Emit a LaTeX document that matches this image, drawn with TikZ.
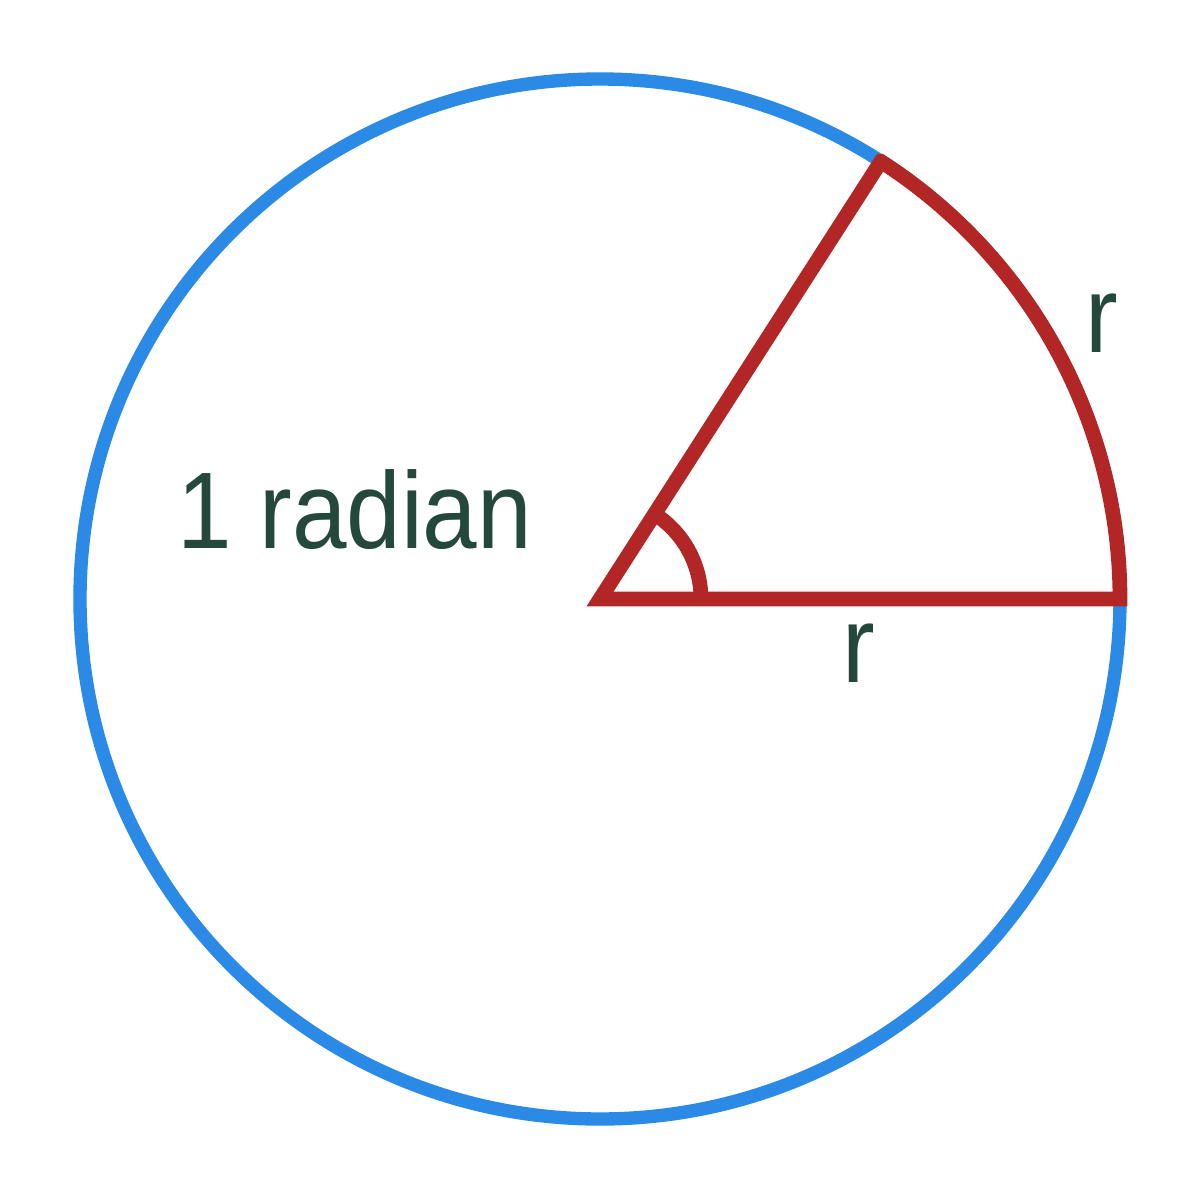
\documentclass[tikz,border=0pt]{standalone}
\usepackage{fontspec}
\setmainfont{Liberation Sans}
\definecolor{circleblue}{RGB}{42,138,230}
\definecolor{sectorred}{RGB}{178,38,38}
\definecolor{labelgreen}{RGB}{36,72,60}
\tikzset{
  rim/.style={draw=circleblue,line width=3.8pt},
  sector/.style={draw=sectorred,line width=4.2pt,line join=miter},
  lbl/.style={text=labelgreen,anchor=base,inner sep=0pt,xscale=0.9,font=\fontsize{31}{36}\selectfont}
}
\begin{document}
\begin{tikzpicture}
            \useasboundingbox[fill=white] (-6,-6.01) rectangle (6,5.99);
            \coordinate (O) at (0,0);
            \coordinate (B) at (0:5.2);
            \coordinate (A) at (57.3:5.2);
            \draw[rim] (O) circle (5.2);
            \draw[sector] (O) -- (B) arc[start angle=0,end angle=57.3,radius=5.2] -- (A) -- cycle;
            \draw[sector] (1.01,0) arc[start angle=0,end angle=57.3,radius=1.01];
            \node (angle) at (-2.45,0.51)[lbl]{1 radian};
            \node (arclen) at (5.02,2.47)[lbl]{r};
            \node (radius) at (2.59,-0.83)[lbl]{r};
\end{tikzpicture}
\end{document}
